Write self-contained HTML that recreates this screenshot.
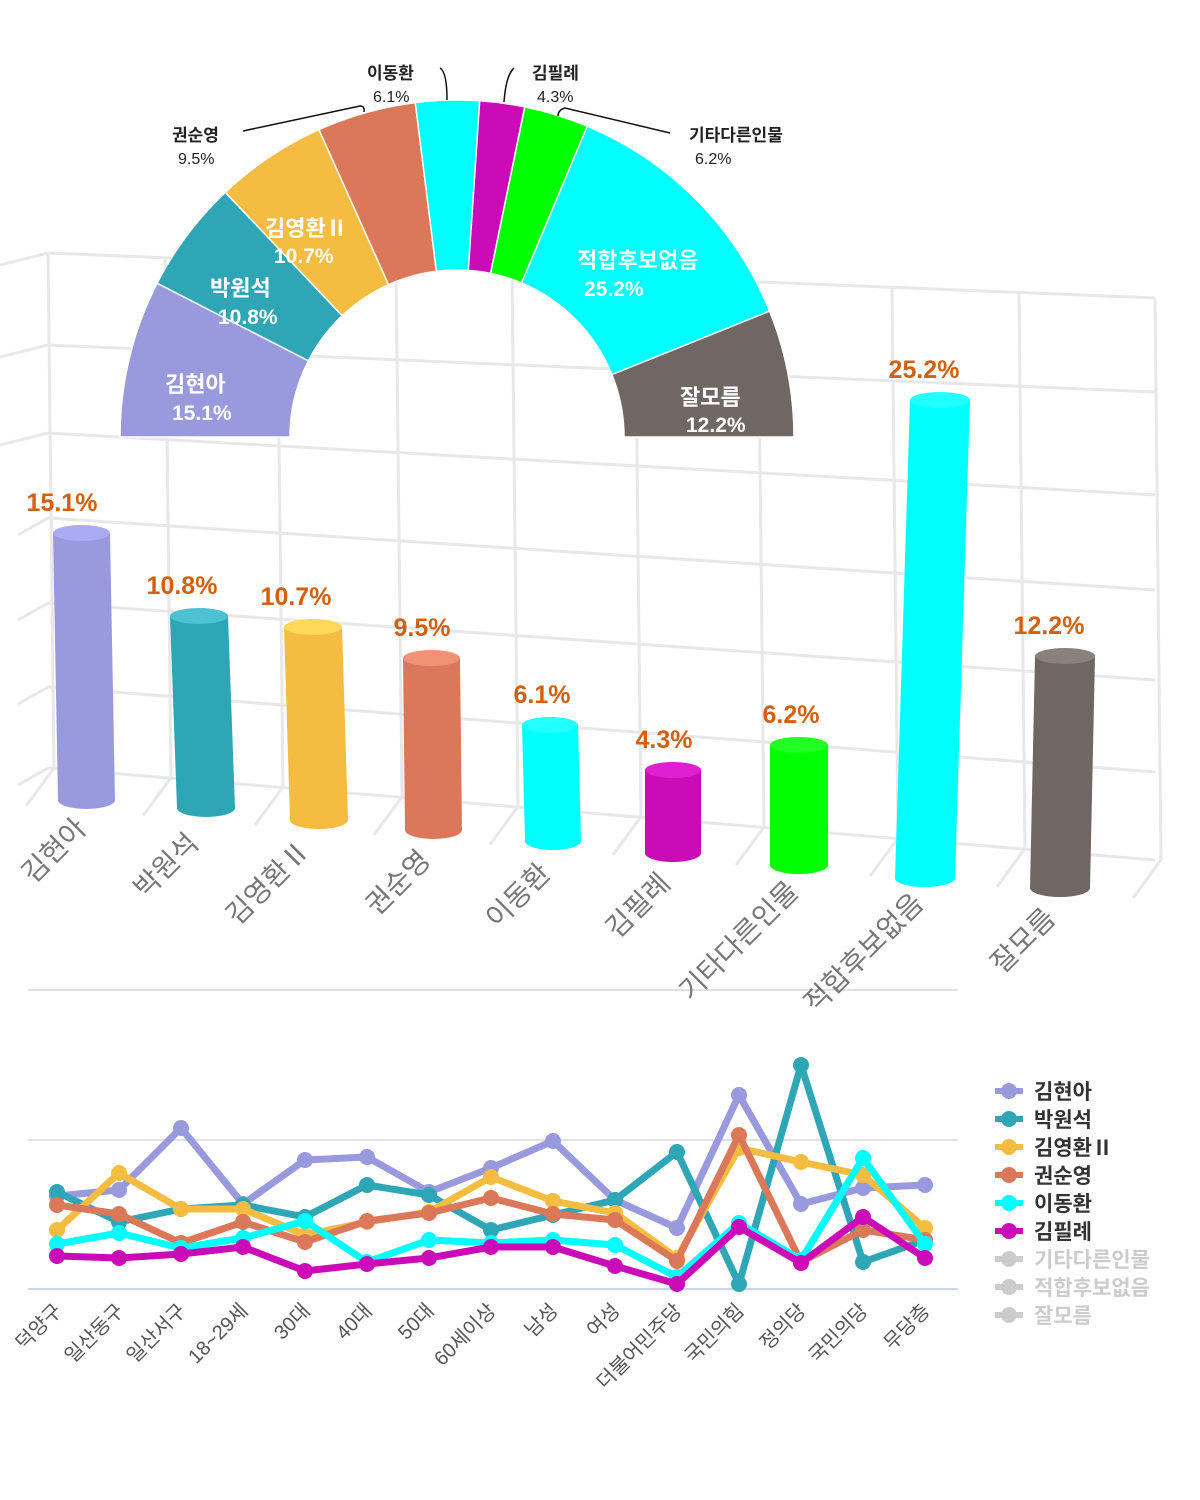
<!DOCTYPE html>
<html><head><meta charset="utf-8"><style>
html,body{margin:0;padding:0;background:#fff;}
svg{display:block;font-family:"Liberation Sans","Noto Sans CJK KR","NanumGothic",sans-serif;}
</style></head><body>
<svg id="s" width="1200" height="1500" viewBox="0 0 1200 1500" xmlns="http://www.w3.org/2000/svg">
<g id="grid" stroke="#e8e8e8" stroke-width="3" fill="none"></g>
<g id="bars"></g>
<g id="pie"></g>
<g id="line"></g>
</svg>
<script>
const NS="http://www.w3.org/2000/svg";
function el(p,t,a,txt){const e=document.createElementNS(NS,t);for(const k in a)e.setAttribute(k,a[k]);if(txt!==undefined)e.textContent=txt;p.appendChild(e);return e;}
const G=document.getElementById('grid'),B=document.getElementById('bars'),P=document.getElementById('pie'),L=document.getElementById('line');
const hl=[[253,298],[345,392],[433,495],[518,590],[603,680],[687,772],[768,860]];
hl.forEach((h,i)=>{el(G,'line',{x1:48,y1:h[0],x2:1155,y2:h[1]});el(G,'line',{x1:i<3?0:18,y1:h[0]+(i<3?12:17),x2:48,y2:h[0]});});
const vx=[48,165,277,396,512,635,758,892,1019,1155];
vx.forEach((x,i)=>{const yt=253+(x-48)*45/1107,yb=768+(x-48)*92/1107;el(G,'line',{x1:x,y1:yt,x2:x+6,y2:yb});el(G,'line',{x1:x+6,y1:yb,x2:x-22,y2:yb+38});});
el(G,'line',{x1:28,y1:990,x2:958,y2:990,stroke:'#e0e0e0','stroke-width':2});
el(G,'line',{x1:28,y1:1140,x2:958,y2:1140,stroke:'#e0e0e0','stroke-width':2});
el(G,'line',{x1:28,y1:1289,x2:958,y2:1289,stroke:'#ccd6eb','stroke-width':2});
const names=['김현아','박원석','김영환Ⅱ','권순영','이동환','김필례','기타다른인물','적합후보없음','잘모름'];
const cols=['#9999dd','#2fa6b6','#f4bd41','#dc785a','#00ffff','#cc0bb8','#00ff00','#00ffff','#706765'];
const tops=['#aaaaf5','#4cc2d2','#ffd85a','#f29275','#22ffff','#e020d0','#22ff22','#22ffff','#8a817f'];
const vals=['15.1%','10.8%','10.7%','9.5%','6.1%','4.3%','6.2%','25.2%','12.2%'];
const bars=[[53,533,57,800],[170,616,58,808],[284,627,58,820],[403,658,57,830],[522,725,56,841],[645,770,56,853],[770,745,58,865],[910,400,60,878],[1035,656,60,888]];
const botx=[58,177,290,405,525,645,770,895,1030];
const lcx=[62,182,296,422,542,664,791,924,1049];
bars.forEach((b,i)=>{const [x,yt,w,yb]=b;const bx=botx[i];
 el(B,'path',{d:`M${x},${yt} L${x+w},${yt} L${bx+w},${yb} A${w/2},9 0 0 1 ${bx},${yb} Z`,fill:cols[i]});
 el(B,'ellipse',{cx:x+w/2,cy:yt,rx:w/2,ry:8,fill:tops[i]});
 el(B,'text',{x:lcx[i],y:yt-22,'text-anchor':'middle','font-size':25,'font-weight':'bold',fill:'#d2600f'},vals[i]);
});
const lab=[[88,830],[200,845],[312,852],[432,862],[552,875],[672,885],[800,893],[925,905],[1057,920]];
lab.forEach((p,i)=>el(B,'text',{x:p[0],y:p[1],'text-anchor':'end','font-size':28,fill:'#777',transform:`rotate(-45 ${p[0]} ${p[1]})`},names[i]));
const cx=457,cy=437,R=337,r=167;const pv=[15.1,10.8,10.7,9.5,6.1,4.3,6.2,25.2,12.2];const tot=100.1;
let a0=Math.PI;
pv.forEach((v,i)=>{const a1=a0-v/tot*Math.PI;
 const p=(rr,a)=>[(cx+rr*Math.cos(a)).toFixed(1),(cy-rr*Math.sin(a)).toFixed(1)];
 const [x1,y1]=p(R,a0),[x2,y2]=p(R,a1),[x3,y3]=p(r,a1),[x4,y4]=p(r,a0);
 el(P,'path',{d:`M${x1},${y1} A${R},${R} 0 0 1 ${x2},${y2} L${x3},${y3} A${r},${r} 0 0 0 ${x4},${y4} Z`,fill:cols[i],stroke:'#fff','stroke-width':1.5});
 a0=a1;});
const inl=[['김현아',165,392,'15.1%',172,420],['박원석',210,296,'10.8%',218,324],['김영환Ⅱ',265,236,'10.7%',274,263],['적합후보없음',577,268,'25.2%',584,296],['잘모름',680,405,'12.2%',686,432]];
inl.forEach(t=>{el(P,'text',{x:t[1],y:t[2],'font-size':22,'font-weight':'bold',fill:'#fff'},t[0]);el(P,'text',{x:t[4],y:t[5],'font-size':21,'font-weight':'bold',fill:'#fff'},t[3]);});
const out=[['권순영',172,141,'9.5%',178,164],['이동환',367,79,'6.1%',373,102],['김필례',532,79,'4.3%',537,102],['기타다른인물',689,141,'6.2%',695,164]];
out.forEach(t=>{el(P,'text',{x:t[1],y:t[2],'font-size':17,'font-weight':'bold',fill:'#222'},t[0]);el(P,'text',{x:t[4],y:t[5],'font-size':16,fill:'#222'},t[3]);});
[['M243,131 L360,106 Q365,106 364,112'],['M440,68 Q447,72 447,100'],['M514,68 Q506,75 504,102'],['M670,133 L565,108 Q558,110 558,116']].forEach(d=>el(P,'path',{d:d[0],fill:'none',stroke:'#111','stroke-width':1.5}));
const xs=[];for(let i=0;i<15;i++)xs.push(57+62*i);
const D=[
['#9999dd',[1196,1190,1128,1204,1160,1157,1192,1168,1141,1200,1228,1095,1204,1188,1185]],
['#2fa6b6',[1192,1222,1209,1205,1217,1185,1195,1230,1215,1200,1152,1284,1065,1262,1240]],
['#f4bd41',[1230,1173,1209,1209,1235,1222,1212,1177,1201,1213,1258,1148,1162,1175,1228]],
['#dc785a',[1205,1214,1243,1222,1242,1221,1213,1198,1214,1220,1261,1135,1262,1230,1240]],
['#00ffff',[1244,1233,1248,1238,1221,1262,1240,1243,1240,1245,1277,1223,1260,1158,1244]],
['#cc0bb8',[1256,1258,1254,1247,1271,1264,1258,1247,1247,1266,1284,1227,1263,1217,1258]]];
D.forEach(d=>{el(L,'polyline',{points:d[1].map((y,i)=>xs[i]+','+y).join(' '),fill:'none',stroke:d[0],'stroke-width':7,'stroke-linejoin':'round'});
 d[1].forEach((y,i)=>el(L,'circle',{cx:xs[i],cy:y,r:8,fill:d[0]}));});
const cat=['덕양구','일산동구','일산서구','18~29세','30대','40대','50대','60세이상','남성','여성','더불어민주당','국민의힘','정의당','국민의당','무당층'];
cat.forEach((c,i)=>{const x=xs[i]+6,y=1312;el(L,'text',{x:x,y:y,'text-anchor':'end','font-size':20,fill:'#555',transform:`rotate(-45 ${x} ${y})`},c);});
const leg=['김현아','박원석','김영환Ⅱ','권순영','이동환','김필례','기타다른인물','적합후보없음','잘모름'];
leg.forEach((n,i)=>{const y=1091+28*i;const c=i<6?D[i][0]:'#cccccc';
 el(L,'line',{x1:995,y1:y,x2:1023,y2:y,stroke:c,'stroke-width':6});el(L,'circle',{cx:1009,cy:y,r:8,fill:c});
 el(L,'text',{x:1034,y:y+8,'font-size':21,'font-weight':'bold',fill:i<6?'#333':'#cccccc'},n);});
</script>
</body></html>
